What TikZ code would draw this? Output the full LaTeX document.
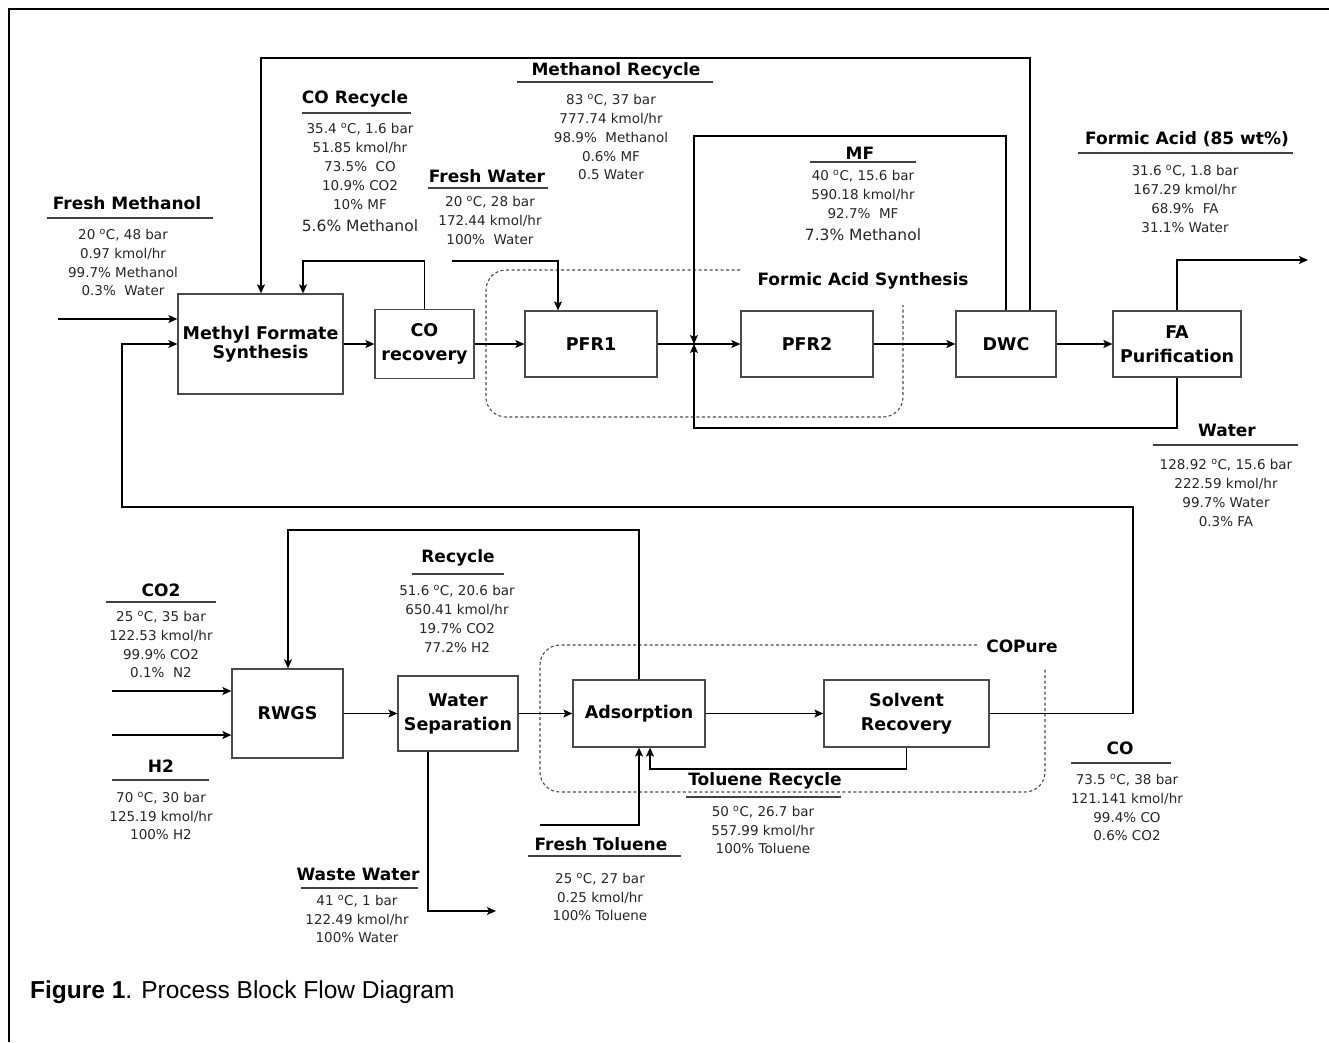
\documentclass[tikz,border=0pt]{standalone}
\usepackage{fontspec}
\setmainfont{DejaVu Sans}
\newfontfamily\capfont{Liberation Sans}
\usetikzlibrary{arrows.meta}
\definecolor{boxgray}{HTML}{4A4A4A}
\definecolor{datgray}{HTML}{262626}
\tikzset{
  blk/.style={draw=boxgray, line width=1.3pt, inner sep=0pt, align=center,
    font=\fontsize{17.5}{24}\selectfont\bfseries},
  ttl/.style={font=\fontsize{17}{20}\selectfont\bfseries, inner sep=0pt},
  dat/.style={font=\fontsize{13.5}{19}\selectfont, align=center, anchor=north, inner sep=0pt, text=datgray},
  big/.style={font=\fontsize{15.5}{19}\selectfont, inner sep=0pt, text=datgray},
  uline/.style={line width=1.1pt, draw=black!75},
  arr/.style={line width=1.2pt, -{Stealth[length=9pt,width=8pt,inset=2pt]}},
  dashbox/.style={draw=black!70, line width=1.1pt, dash pattern=on 3pt off 2.5pt, rounded corners=20pt},
}
\newcommand{\dg}{\textsuperscript{o}C}
\begin{document}
\begin{tikzpicture}[x=1pt,y=-1pt]
\useasboundingbox (0,0) rectangle (1329,1042);
\draw[line width=1.5pt] (9,1042) -- (9,9) -- (1329,9);

% ---------- top row blocks
\node[blk, minimum width=165pt, minimum height=100pt, font=\fontsize{17.5}{19}\selectfont\bfseries] (MFS) at (260.5,344) {Methyl Formate\\Synthesis};
\node[blk, minimum width=99pt, minimum height=69pt] (COR) at (424.5,344) {CO\\recovery};
\node[blk, minimum width=132pt, minimum height=66pt] (PFR1) at (591,344) {PFR1};
\node[blk, minimum width=132pt, minimum height=66pt] (PFR2) at (807,344) {PFR2};
\node[blk, minimum width=100pt, minimum height=66pt] (DWC) at (1006,344) {DWC};
\node[blk, minimum width=128pt, minimum height=66pt] (FAP) at (1177,344) {FA\\Purification};

% ---------- bottom row blocks
\node[blk, minimum width=111pt, minimum height=89pt] (RWGS) at (287.5,713.5) {RWGS};
\node[blk, minimum width=120pt, minimum height=75pt] (WS) at (458,713.5) {Water\\Separation};
\node[blk, minimum width=132pt, minimum height=67pt] (ADS) at (639,713.5) {Adsorption};
\node[blk, minimum width=165pt, minimum height=67pt] (SR) at (906.5,713.5) {Solvent\\Recovery};

% ---------- coordinates
\coordinate (fm) at (58,319);
\coordinate (mrtop) at (261,58);
\coordinate (cor) at (303,261);
\coordinate (fw) at (452,261);
\coordinate (J) at (694,344);
\coordinate (mfc) at (694,136);
\coordinate (wc) at (694,428);
\coordinate (fao) at (1308,260);
\coordinate (c1) at (1133,507);
\coordinate (c2) at (122,507);
\coordinate (co2) at (112,691);
\coordinate (h2) at (112,735);
\coordinate (rc) at (288,530);
\coordinate (ww) at (496,911);
\coordinate (tr) at (650,769);
\coordinate (ft) at (540,825);

% ---------- dashed groups
\draw[dashbox] (740,270) -- (486,270) -- (486,417) -- (903,417) -- (903,305);
\draw[dashbox] (977,645) -- (540,645) -- (540,792) -- (1045,792) -- (1045,668);
\node[ttl] (fas) at (863,281) {Formic Acid Synthesis};
\node[ttl] (cop) at (1022,646) {COPure};

% ---------- top connectors
\draw[arr] (fm) -- (fm -| MFS.west);
\draw[arr] (MFS.east) -- (COR.west);
\draw[arr] (COR.north) |- (cor) -- (cor |- MFS.north);
\draw[arr] ([xshift=24pt]DWC.north) |- (mrtop) -- (mrtop |- MFS.north);
\draw[arr] (COR.east) -- (PFR1.west);
\draw[arr] (fw) -| ([xshift=-33pt]PFR1.north);
\draw[arr] (PFR1.east) -- (PFR2.west);
\draw[arr] (DWC.north) |- (mfc) -- (J);
\draw[arr] (FAP.south) |- (wc) -- (J);
\draw[arr] (PFR2.east) -- (DWC.west);
\draw[arr] (DWC.east) -- (FAP.west);
\draw[arr] (FAP.north) |- (fao);
\draw[arr] (SR.east) -| (c1) -- (c2) |- (MFS.west);

% ---------- bottom connectors
\draw[arr] (co2) -- (co2 -| RWGS.west);
\draw[arr] (h2) -- (h2 -| RWGS.west);
\draw[arr] (RWGS.east) -- (WS.west);
\draw[arr] (WS.east) -- (ADS.west);
\draw[arr] (ADS.north) |- (rc) -- (rc |- RWGS.north);
\draw[arr] (ADS.east) -- (SR.west);
\draw[arr] ([xshift=-30pt]WS.south) |- (ww);
\draw[arr] (SR.south) |- (tr) -- (tr |- ADS.south);
\draw[arr] (ft) -| (ADS.south);

% ---------- stream labels (top)
\node[ttl] (tFM) at (127,203) {Fresh Methanol};
\draw[uline] (47,218) -- (213,218);
\node[dat, font=\fontsize{13.5}{18.7}\selectfont] (dFM) at (123,229) {20 \dg, 48 bar\\0.97 kmol/hr\\99.7\% Methanol\\0.3\%~~Water};

\node[ttl] (tCR) at (355,99) {CO Recycle};
\draw[uline] (302,113) -- (411,113);
\node[dat] (dCR) at (360,123) {35.4 \dg, 1.6 bar\\51.85 kmol/hr\\73.5\%~~CO\\10.9\% CO2\\10\% MF};
\node[big] (dCR2) at (360,226) {5.6\% Methanol};

\node[ttl] (tMR) at (616,71) {Methanol Recycle};
\draw[uline] (517,82) -- (713,82);
\node[dat, font=\fontsize{13.5}{18.8}\selectfont] (dMR) at (611,94) {83 \dg, 37 bar\\777.74 kmol/hr\\98.9\%~~Methanol\\0.6\% MF\\0.5 Water};

\node[ttl] (tFW) at (487,176) {Fresh Water};
\draw[uline] (428,188) -- (548,188);
\node[dat] (dFW) at (490,196) {20 \dg, 28 bar\\172.44 kmol/hr\\100\%~~Water};

\node[ttl] (tMF) at (860,153) {MF};
\draw[uline] (810,162) -- (916,162);
\node[dat] (dMF) at (863,170) {40 \dg, 15.6 bar\\590.18 kmol/hr\\92.7\%~~MF};
\node[big] (dMF2) at (863,235) {7.3\% Methanol};

\node[ttl] (tFA) at (1187,139) {Formic Acid (85 wt\%)};
\draw[uline] (1078,153) -- (1293,153);
\node[dat] (dFA) at (1185,165) {31.6 \dg, 1.8 bar\\167.29 kmol/hr\\68.9\%~~FA\\31.1\% Water};

\node[ttl] (tW) at (1227,430) {Water};
\draw[uline] (1153,445) -- (1298,445);
\node[dat] (dW) at (1226,459) {128.92 \dg, 15.6 bar\\222.59 kmol/hr\\99.7\% Water\\0.3\% FA};

% ---------- stream labels (bottom)
\node[ttl] (tCO2) at (161,590) {CO2};
\draw[uline] (106,602) -- (216,602);
\node[dat, font=\fontsize{13.5}{18.7}\selectfont] (dCO2) at (161,611) {25 \dg, 35 bar\\122.53 kmol/hr\\99.9\% CO2\\0.1\%~~N2};

\node[ttl] (tH2) at (161,766) {H2};
\draw[uline] (112,780) -- (209,780);
\node[dat, font=\fontsize{13.5}{18.5}\selectfont] (dH2) at (161,792) {70 \dg, 30 bar\\125.19 kmol/hr\\100\% H2};

\node[ttl] (tRC) at (458,558) {Recycle};
\draw[uline] (412,574) -- (504,574);
\node[dat] (dRC) at (457,585) {51.6 \dg, 20.6 bar\\650.41 kmol/hr\\19.7\% CO2\\77.2\% H2};

\node[ttl] (tWW) at (358,874) {Waste Water};
\draw[uline] (301,888) -- (418,888);
\node[dat, font=\fontsize{13.5}{18.5}\selectfont] (dWW) at (357,895) {41 \dg, 1 bar\\122.49 kmol/hr\\100\% Water};

\node[ttl] (tFT) at (601,844) {Fresh Toluene};
\draw[uline] (528,856) -- (681,856);
\node[dat, font=\fontsize{13.5}{18.5}\selectfont] (dFT) at (600,873) {25 \dg, 27 bar\\0.25 kmol/hr\\100\% Toluene};

\node[ttl] (tTR) at (765,781) {Toluene Recycle};
\draw[uline] (686,797) -- (841,797);
\node[dat, font=\fontsize{13.5}{18.5}\selectfont] (dTR) at (763,806) {50 \dg, 26.7 bar\\557.99 kmol/hr\\100\% Toluene};

\node[ttl] (tCO) at (1120,748) {CO};
\draw[uline] (1071,763) -- (1171,763);
\node[dat, font=\fontsize{13.5}{18.7}\selectfont] (dCO) at (1127,774) {73.5 \dg, 38 bar\\121.141 kmol/hr\\99.4\% CO\\0.6\% CO2};

% ---------- caption
\node[anchor=base west, inner sep=0pt, font=\capfont\fontsize{24.5}{28}\selectfont] (cap) at (30,998) {\textbf{Figure 1}. Process Block Flow Diagram};
\end{tikzpicture}
\end{document}
